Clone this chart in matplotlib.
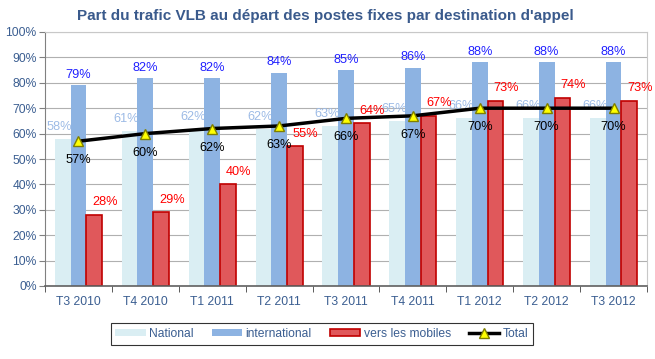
import numpy as np
import matplotlib.pyplot as plt

plt.rcParams['font.family'] = ['Liberation Sans', 'DejaVu Sans']

categories = ['T3 2010', 'T4 2010', 'T1 2011', 'T2 2011', 'T3 2011',
              'T4 2011', 'T1 2012', 'T2 2012', 'T3 2012']
national = [58, 61, 62, 62, 63, 65, 66, 66, 66]
international = [79, 82, 82, 84, 85, 86, 88, 88, 88]
mobiles = [28, 29, 40, 55, 64, 67, 73, 74, 73]
total = [57, 60, 62, 63, 66, 67, 70, 70, 70]

c_nat = '#DAEEF3'
c_int = '#8DB3E2'
c_mob = '#E0585B'
c_mob_edge = '#C00000'
c_axis_txt = '#3B5E91'

fig = plt.figure(figsize=(6.55, 3.59), dpi=100)
ax = fig.add_axes([45/655, 1-286/359, 602/655, 254/359])

x = np.arange(len(categories))
w = 0.235
b1 = ax.bar(x - w, national, w, color=c_nat, label='National', zorder=2)
b2 = ax.bar(x, international, w, color=c_int, label='international', zorder=2.5)
b3 = ax.bar(x + w, mobiles, w, color=c_mob, edgecolor=c_mob_edge, linewidth=1.2,
            label='vers les mobiles', zorder=2.5)
l1, = ax.plot(x, total, color='black', lw=2.5, marker='^', markersize=7,
              markerfacecolor='#FFFF00', markeredgecolor='#7F7F00', label='Total', zorder=4)

fs = 9.2
for i in range(len(x)):
    # national labels sit behind the other bars, as in the original
    ax.text(x[i] - 0.28, national[i] + 4.7, f'{national[i]}%', color='#9DBBE6',
            ha='center', va='center', fontsize=fs, zorder=2.2)
    ax.text(x[i], international[i] + 4.0, f'{international[i]}%', color='#2020FF',
            ha='center', va='center', fontsize=fs, zorder=5)
    ax.text(x[i] + w + 0.16, mobiles[i] + 5.0, f'{mobiles[i]}%', color='#FF0000',
            ha='center', va='center', fontsize=fs, zorder=5)
    ax.text(x[i], total[i] - 7.5, f'{total[i]}%', color='black',
            ha='center', va='center', fontsize=fs, zorder=5)

ax.set_xlim(-0.5, len(x) - 0.5)
ax.set_ylim(0, 100)
ax.set_yticks(np.arange(0, 101, 10))
ax.set_yticklabels([f'{v}%' for v in range(0, 101, 10)], color=c_axis_txt, fontsize=8.7)
ax.set_xticks(x)
ax.set_xticklabels(categories, color=c_axis_txt, fontsize=8.7)
ax.tick_params(axis='x', length=0, pad=7)
ax.set_xticks(np.arange(-0.5, len(x), 1), minor=True)
ax.tick_params(axis='x', which='minor', length=4, color='#404040')
ax.tick_params(axis='y', length=4, color='#808080', pad=2)
ax.grid(axis='y', color='#B0B0B0', lw=0.8, zorder=0)
for s in ['top', 'right']:
    ax.spines[s].set_color('#C8C8C8')
ax.spines['left'].set_color('#808080')
ax.spines['bottom'].set_color('#606060')
ax.spines['bottom'].set_linewidth(1.2)

fig.text(325/655, 1-16/359, "Part du trafic VLB au départ des postes fixes par destination d'appel",
         ha='center', va='center', fontsize=11, fontweight='bold', color='#3A5A8C')

leg = fig.legend([b1, b2, b3, l1], ['National', 'international', 'vers les mobiles', 'Total'],
                 loc='center', bbox_to_anchor=(322/655, 1-334/359), ncol=4,
                 frameon=True, fancybox=False, fontsize=8.7, handlelength=2.5,
                 handleheight=0.5, columnspacing=1.5, borderpad=0.4, handletextpad=0.3,
                 borderaxespad=0)
leg.get_frame().set_edgecolor('black')
leg.get_frame().set_linewidth(0.8)
for t in leg.get_texts():
    t.set_color(c_axis_txt)

fig.savefig('out.png', dpi=100)
